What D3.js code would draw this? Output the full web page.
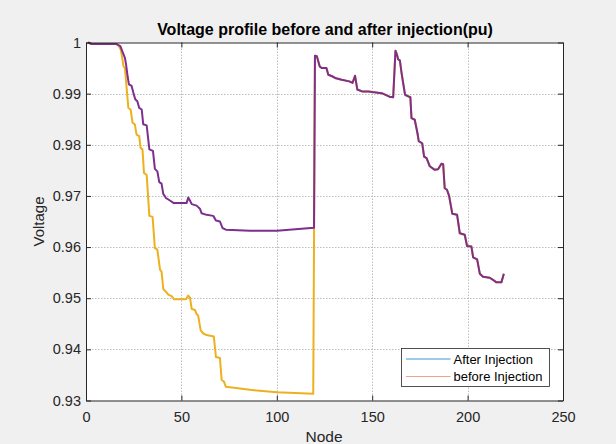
<!DOCTYPE html>
<html>
<head>
<meta charset="utf-8">
<script src="https://cdn.jsdelivr.net/npm/d3@7"></script>
<style>
  body { margin: 0; background: #f0f0f0; }
  svg { display: block; font-family: "Liberation Sans", Arial, sans-serif; }
</style>
</head>
<body>
<div id="chart"></div>
<script>
// [node, voltage] vertices
const afterInjection = [
  [1, 1.0000], [3, 0.9997], [16, 0.9997], [18, 0.9993], [19, 0.9983], [20.4, 0.9970],
  [21, 0.9957], [21.8, 0.9934], [22.5, 0.9918], [23.9, 0.9915], [24.8, 0.9902],
  [25.8, 0.9889], [26.9, 0.9885], [27.9, 0.9872], [29.2, 0.9869], [30, 0.9840],
  [31.8, 0.9838], [33.2, 0.9791], [35.1, 0.9788], [36.1, 0.9753], [37.4, 0.9748],
  [38.4, 0.9727], [39.6, 0.9724], [40.5, 0.9704], [41.9, 0.9696], [44, 0.9691],
  [46, 0.9686], [52.7, 0.9686], [53.6, 0.9697], [54.6, 0.9690], [55.4, 0.9684],
  [58, 0.9681], [59.7, 0.9675], [60.6, 0.9666], [63.2, 0.9663], [66.7, 0.9661],
  [68.1, 0.9652], [70.2, 0.9650], [71.6, 0.9637], [73.3, 0.9634], [86, 0.9632],
  [100, 0.9632], [119.5, 0.9638]
];
const sharedTail = [
  [120, 0.9974], [121, 0.9973], [122.5, 0.9953], [123.5, 0.9950], [126, 0.9950],
  [127, 0.9937], [129, 0.9934], [131, 0.9930], [134, 0.9927], [138, 0.9924],
  [139.7, 0.9921], [141, 0.9935], [142.2, 0.9908], [145, 0.9904], [148, 0.9904],
  [150, 0.9903], [155, 0.9901], [159, 0.9894], [161, 0.9893], [162.2, 0.9984],
  [163, 0.9976], [163.6, 0.9967], [164.5, 0.9965], [165.4, 0.9940], [167.2, 0.9898],
  [168, 0.9896], [170, 0.9893], [170.6, 0.9852], [172.3, 0.9849], [173.7, 0.9823],
  [174.4, 0.9807], [176.2, 0.9803], [177.2, 0.9777], [178.5, 0.9774], [180.2, 0.9758],
  [182.8, 0.9751], [184.5, 0.9752], [186.3, 0.9763], [187.2, 0.9762], [188, 0.9715],
  [189.2, 0.9712], [190.3, 0.9700], [192, 0.9665], [194.5, 0.9663], [195.9, 0.9627],
  [198.5, 0.9624], [199.7, 0.9602], [202, 0.9601], [202.9, 0.9580], [205, 0.9576],
  [206.4, 0.9548], [208.1, 0.9542], [211.6, 0.9540], [213.3, 0.9536], [215.1, 0.9531],
  [217.7, 0.9531], [219, 0.9548]
];
const beforeHead = [
  [1, 1.0000], [3, 0.9997], [16, 0.9997], [17, 0.9994], [18.2, 0.9986], [19, 0.9970],
  [19.6, 0.9954], [20.4, 0.9950], [21.3, 0.9911], [22.2, 0.9872], [23.4, 0.9869],
  [24.4, 0.9843], [25.6, 0.9840], [26.5, 0.9820], [27.9, 0.9817], [28.6, 0.9794],
  [29.6, 0.9791], [30.4, 0.9745], [31.8, 0.9741], [33.2, 0.9661], [34.9, 0.9659],
  [36.1, 0.9598], [37.4, 0.9595], [38.8, 0.9556], [39.6, 0.9552], [40.5, 0.9518],
  [42.3, 0.9511], [43.1, 0.9507], [44.9, 0.9504], [46.1, 0.9498], [52.4, 0.9498],
  [53.6, 0.9505], [54.5, 0.9501], [55.4, 0.9479], [57.1, 0.9477], [58, 0.9469],
  [58.8, 0.9466], [60.1, 0.9437], [61.5, 0.9431], [63.2, 0.9428], [67, 0.9425],
  [68.1, 0.9385], [70.2, 0.9383], [71.1, 0.9340], [72.3, 0.9337], [73.3, 0.9327],
  [85.9, 0.9321], [91, 0.9319], [100, 0.9316], [119.1, 0.9313]
];
const beforeInjection = beforeHead.concat(sharedTail);
const afterFull = afterInjection.concat(sharedTail);

const xTicks = [0, 50, 100, 150, 200, 250];
const yTicks = [0.93, 0.94, 0.95, 0.96, 0.97, 0.98, 0.99, 1];
const legendItems = [
  { label: "After Injection", color: "#3b97d9" },
  { label: "before Injection", color: "#eea286" }
];

const width = 616, height = 444;
const box = { left: 86, right: 563, top: 42.5, bottom: 400.5 };
const axisColor = "#262626";

const svg = d3.select("#chart").append("svg")
  .attr("width", width).attr("height", height);

svg.append("rect").attr("width", width).attr("height", height).attr("fill", "#f0f0f0");

const x = d3.scaleLinear().domain([0, 250]).range([box.left, box.right]);
const y = d3.scaleLinear().domain([0.93, 1]).range([box.bottom, box.top]);

//plot area
svg.append("rect")
  .attr("x", box.left).attr("y", box.top)
  .attr("width", box.right - box.left).attr("height", box.bottom - box.top)
  .attr("fill", "#ffffff");

//grid
const grid = svg.append("g").attr("stroke", "#bdbdbd").attr("stroke-width", 1)
  .attr("stroke-dasharray", "1.5,1.5");
grid.selectAll(".gx").data(xTicks.slice(1, -1)).join("line")
  .attr("x1", d => Math.round(x(d)) + 0.5).attr("x2", d => Math.round(x(d)) + 0.5)
  .attr("y1", box.top).attr("y2", box.bottom);
grid.selectAll(".gy").data(yTicks.slice(1, -1)).join("line")
  .attr("y1", d => Math.round(y(d)) + 0.5).attr("y2", d => Math.round(y(d)) + 0.5)
  .attr("x1", box.left).attr("x2", box.right);

//lines
const line = d3.line().x(d => x(d[0])).y(d => y(d[1]));
svg.append("path").datum(beforeInjection)
  .attr("d", line).attr("fill", "none")
  .attr("stroke", "#EDB120").attr("stroke-width", 2).attr("stroke-linejoin", "round");
svg.append("path").datum(afterFull)
  .attr("d", line).attr("fill", "none")
  .attr("stroke", "#7E2F8E").attr("stroke-width", 2).attr("stroke-linejoin", "round");

//axes, ticks inward, box on
const axB = d3.axisBottom(x).tickValues(xTicks).tickSizeInner(-5).tickSizeOuter(0).tickPadding(11);
const axT = d3.axisTop(x).tickValues(xTicks).tickSizeInner(-5).tickSizeOuter(0).tickFormat("");
const axL = d3.axisLeft(y).tickValues(yTicks).tickSizeInner(-5).tickSizeOuter(0).tickPadding(5)
  .tickFormat(d => d === 1 ? "1" : d3.format(".2f")(d));
const axR = d3.axisRight(y).tickValues(yTicks).tickSizeInner(-5).tickSizeOuter(0).tickFormat("");

const styleAxis = g => {
  g.select(".domain").attr("stroke", axisColor);
  g.selectAll(".tick line").attr("stroke", axisColor);
  g.selectAll(".tick text").attr("fill", axisColor).style("font-size", "14.5px")
    .style("font-family", "'Liberation Sans', Arial, sans-serif");
};
svg.append("g").attr("transform", `translate(0,${box.bottom})`).call(axB).call(styleAxis);
svg.append("g").attr("transform", `translate(0,${box.top})`).call(axT).call(styleAxis);
svg.append("g").attr("transform", `translate(${box.left},0)`).call(axL).call(styleAxis);
svg.append("g").attr("transform", `translate(${box.right},0)`).call(axR).call(styleAxis);

//labels
svg.append("text")
  .attr("x", 325).attr("y", 35)
  .attr("text-anchor", "middle").attr("font-weight", "bold").attr("font-size", 16)
  .attr("fill", "#000").text("Voltage profile before and after injection(pu)");
svg.append("text")
  .attr("x", 324).attr("y", 442)
  .attr("text-anchor", "middle").attr("font-size", 15.5).attr("fill", axisColor).text("Node");
svg.append("text")
  .attr("transform", `translate(44,${(box.top + box.bottom) / 2}) rotate(-90)`)
  .attr("text-anchor", "middle").attr("font-size", 15).attr("fill", axisColor).text("Voltage");

//legend
const legend = svg.append("g").attr("transform", "translate(401.5,348.5)");
legend.append("rect").attr("width", 148).attr("height", 38)
  .attr("fill", "#ffffff").attr("stroke", axisColor).attr("stroke-width", 0.8);
legend.selectAll(".item").data(legendItems).join("g")
  .attr("transform", (d, i) => `translate(0,${10.5 + i * 17.5})`)
  .each(function (d) {
    const g = d3.select(this);
    g.append("line").attr("x1", 4.5).attr("x2", 49).attr("stroke", d.color).attr("stroke-width", 1.2);
    g.append("text").attr("x", 52).attr("y", 4.5).attr("font-size", 13)
      .attr("fill", "#000").text(d.label);
  });
</script>
</body>
</html>
